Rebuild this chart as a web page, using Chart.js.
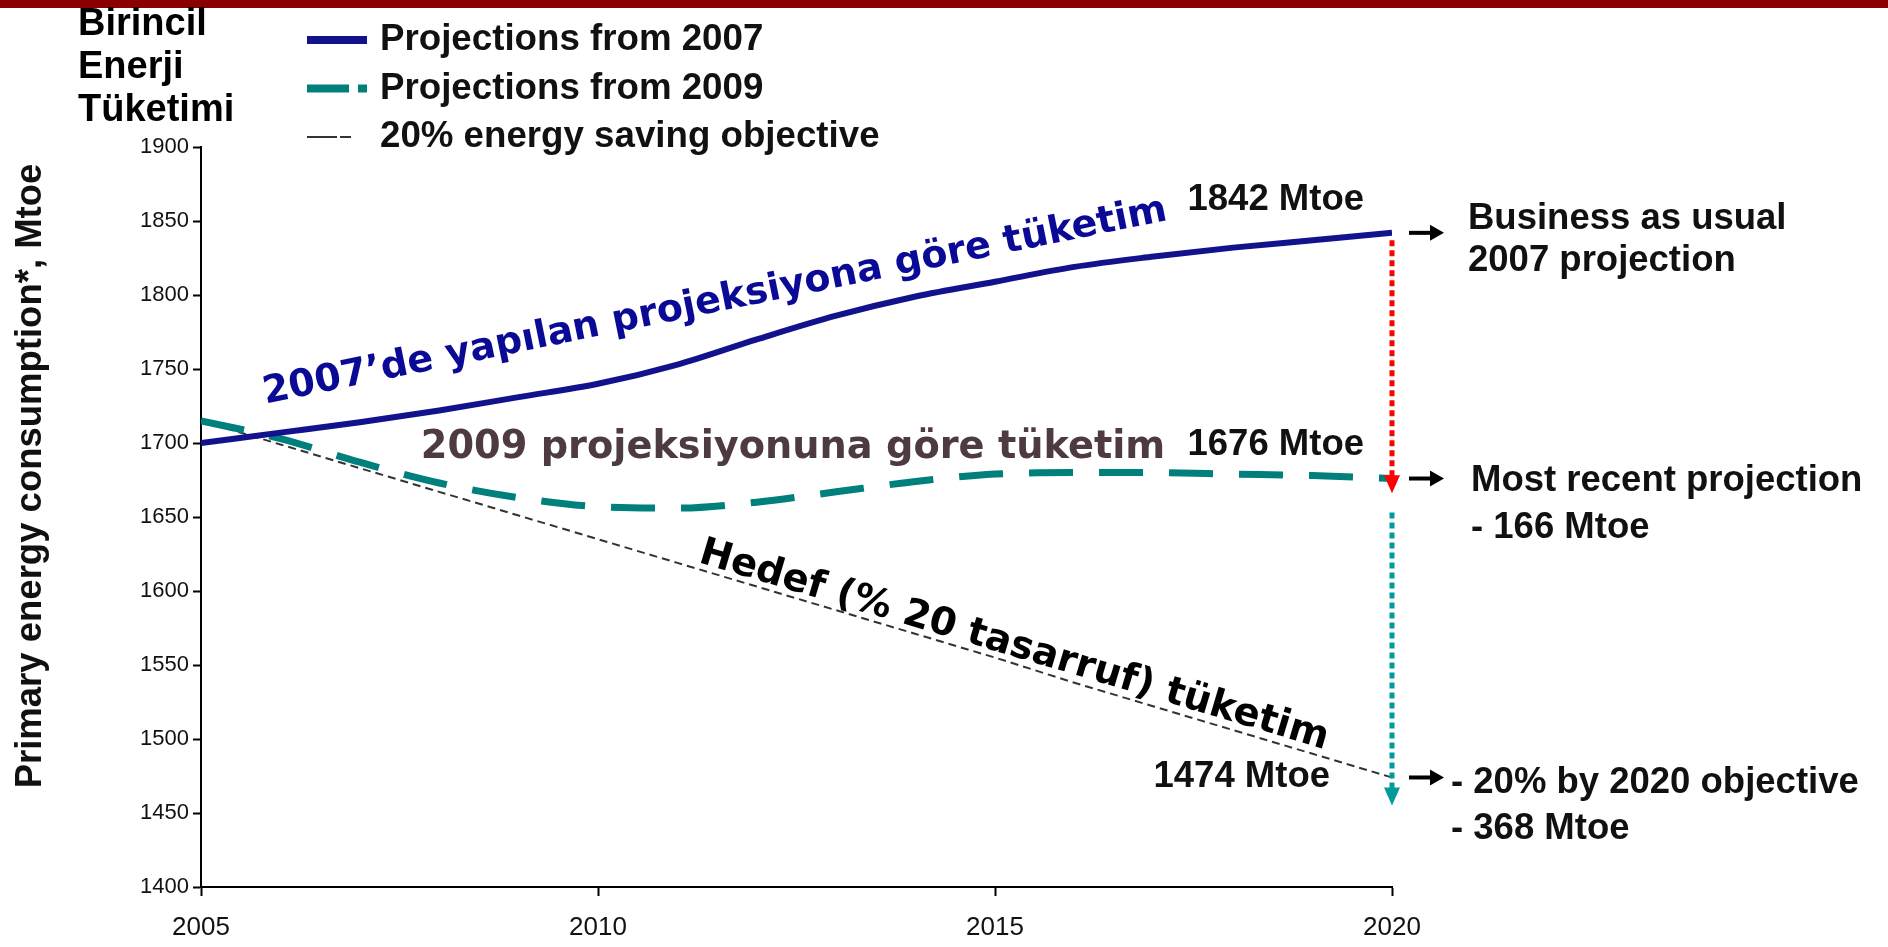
<!DOCTYPE html>
<html>
<head>
<meta charset="utf-8">
<script src="https://cdn.jsdelivr.net/npm/chart.js@4.4.0/dist/chart.umd.min.js"></script>
<style>
html,body{margin:0;padding:0;background:#fff;overflow:hidden}
#wrap{position:relative;width:1888px;height:947px}
</style>
</head>
<body>
<div id="wrap"><canvas id="c" width="1888" height="947"></canvas></div>
<script>
// ---------- data ----------
const years = [2005,2006,2007,2008,2009,2010,2011,2012,2013,2014,2015,2016,2017,2018,2019,2020];
const proj2007 = [1700,1707,1714,1722,1731,1740,1753,1770,1786,1799,1809,1819,1826,1832,1837,1842];
const proj2009 = [1715,1703,1687,1673,1663,1657,1656,1660,1667,1674,1679,1680,1680,1679,1678,1676];
const objective = [1715,1699,1683,1667,1651,1635,1619,1603,1587,1571,1555,1538,1522,1506,1490,1474];
const seriesLabels = ['Projections from 2007','Projections from 2009','20% energy saving objective'];
const xTickValues = [2005,2010,2015,2020];
const yTickValues = [1400,1450,1500,1550,1600,1650,1700,1750,1800,1850,1900];
const endValues = [1842,1676,1474];
const endLabels = ['1842 Mtoe','1676 Mtoe','1474 Mtoe'];
const sideNotes = [['Business as usual','2007 projection'],['Most recent projection','- 166 Mtoe'],['- 20% by 2020 objective','- 368 Mtoe']];
const gapRed = [1837,1666];
const gapTeal = [1653,1455];
const heading = ['Birincil','Enerji','Tüketimi'];
const yTitle = 'Primary energy consumption*, Mtoe';
const curveNotes = ["2007\u2019de yap\u0131lan projeksiyona g\u00f6re t\u00fcketim","2009 projeksiyonuna g\u00f6re t\u00fcketim","Hedef (% 20 tasarruf) t\u00fcketim"];

// ---------- styles ----------
const NAVY = '#12128c', TEAL = '#00807c', TEAL_DOT = '#009c9c', RED = '#ff0000';
const ARIAL = '"Liberation Sans", Arial, sans-serif';
const WIDE = '"DejaVu Sans", Verdana, sans-serif';

const toPts = arr => years.map((yr,i)=>({x:yr,y:arr[i]}));

function arrowDown(ctx, x, yTop, yTip, color){
  ctx.save();
  ctx.strokeStyle = color; ctx.lineWidth = 5; ctx.setLineDash([6,4]);
  ctx.beginPath(); ctx.moveTo(x, yTop); ctx.lineTo(x, yTip-14); ctx.stroke();
  ctx.setLineDash([]);
  ctx.fillStyle = color;
  ctx.beginPath(); ctx.moveTo(x-8, yTip-18); ctx.lineTo(x+8, yTip-18); ctx.lineTo(x, yTip); ctx.closePath(); ctx.fill();
  ctx.restore();
}
function arrowRight(ctx, x0, x1, y){
  ctx.save();
  ctx.fillStyle = '#000';
  ctx.fillRect(x0, y-2, x1-x0-12, 4);
  ctx.beginPath(); ctx.moveTo(x1-14, y-8); ctx.lineTo(x1, y); ctx.lineTo(x1-14, y+8); ctx.closePath(); ctx.fill();
  ctx.restore();
}
function text(ctx, s, x, y, font, color, align, angle){
  ctx.save();
  ctx.translate(x, y);
  if (angle) ctx.rotate(angle*Math.PI/180);
  ctx.font = font; ctx.fillStyle = color; ctx.textAlign = align || 'left'; ctx.textBaseline = 'middle';
  ctx.fillText(s, 0, 0);
  ctx.restore();
}

const deco = {
  id: 'deco',
  afterDatasetsDraw(chart){
    const {ctx, scales:{x, y}} = chart;
    ctx.save();
    // top band
    ctx.fillStyle = '#8a0000'; ctx.fillRect(0, 0, chart.width, 8);
    // heading
    heading.forEach((t,i)=>{
      ctx.font = 'bold 38px ' + ARIAL; ctx.fillStyle = '#000'; ctx.textAlign='left'; ctx.textBaseline='alphabetic';
      ctx.fillText(t, 78, 35 + i*43);
    });
    // y title
    text(ctx, yTitle, 31, 476, 'bold 36.5px ' + ARIAL, '#111', 'center', -90);
    // legend
    chart.data.datasets.forEach((ds,i)=>{
      const ly = 40 + i*48.5;
      ctx.fillStyle = ds.borderColor;
      if (i===0){ ctx.fillRect(307, ly-4, 60, 8); }
      else if (i===1){ ctx.fillRect(307, ly-4, 42, 8); ctx.fillRect(358, ly-4, 9, 8); }
      else { ctx.fillRect(307, ly-1, 30, 2); ctx.fillRect(340, ly-1, 11, 2); }
      text(ctx, ds.label, 380, ly, 'bold 36.7px ' + ARIAL, '#111', 'left');
    });
    // curve notes
    text(ctx, curveNotes[0], 715, 302, 'bold 38px ' + WIDE, '#0a0a96', 'center', -11.5);
    text(ctx, curveNotes[1], 793, 448, 'bold 38.3px ' + WIDE, '#4d3b40', 'center', 0);
    text(ctx, curveNotes[2], 1014, 646, 'bold 38.6px ' + WIDE, '#000', 'center', 16.6);
    // vertical gap arrows
    const xe = x.getPixelForValue(years[years.length-1]);
    arrowDown(ctx, xe, y.getPixelForValue(gapRed[0]), y.getPixelForValue(gapRed[1]), RED);
    arrowDown(ctx, xe, y.getPixelForValue(gapTeal[0]), y.getPixelForValue(gapTeal[1]), TEAL_DOT);
    // end labels, arrows and side notes
    const f = 'bold 36.5px ' + ARIAL;
    const py = endValues.map(v=>y.getPixelForValue(v));
    text(ctx, endLabels[0], xe-28, py[0]-33, f, '#111', 'right');
    text(ctx, endLabels[1], xe-28, py[1]-34, f, '#111', 'right');
    text(ctx, endLabels[2], xe-62, py[2]-1, f, '#111', 'right');
    py.forEach(p=>arrowRight(ctx, xe+17, xe+52, p));
    text(ctx, sideNotes[0][0], xe+76, py[0]-14, f, '#111', 'left');
    text(ctx, sideNotes[0][1], xe+76, py[0]+28, f, '#111', 'left');
    text(ctx, sideNotes[1][0], xe+79, py[1]+2, f, '#111', 'left');
    text(ctx, sideNotes[1][1], xe+79, py[1]+49, f, '#111', 'left');
    text(ctx, sideNotes[2][0], xe+59, py[2]+5, f, '#111', 'left');
    text(ctx, sideNotes[2][1], xe+59, py[2]+51, f, '#111', 'left');
    ctx.restore();
  }
};

new Chart(document.getElementById('c'), {
  type: 'line',
  data: {
    datasets: [
      {label: seriesLabels[0], data: toPts(proj2007), borderColor: NAVY, borderWidth: 6, pointRadius: 0, cubicInterpolationMode: 'monotone', fill: false},
      {label: seriesLabels[1], data: toPts(proj2009), borderColor: TEAL, borderWidth: 7, borderDash: [44,26], borderCapStyle: 'butt', pointRadius: 0, cubicInterpolationMode: 'monotone', fill: false},
      {label: seriesLabels[2], data: toPts(objective), borderColor: '#333333', borderWidth: 2, borderDash: [8,5], pointRadius: 0, tension: 0, fill: false}
    ]
  },
  options: {
    responsive: false,
    animation: false,
    devicePixelRatio: 1,
    layout: {padding: {left: 0, top: 147, right: 496, bottom: 0}},
    plugins: {legend: {display: false}, tooltip: {enabled: false}, title: {display: false}},
    scales: {
      x: {
        type: 'linear', min: 2005, max: 2020,
        afterBuildTicks: s => { s.ticks = xTickValues.map(v=>({value: v})); },
        afterFit: s => { s.height = 60; },
        grid: {drawOnChartArea: false, drawTicks: true, tickLength: 9, tickColor: '#000', tickWidth: 2},
        border: {display: true, color: '#000', width: 2},
        ticks: {font: {family: ARIAL, size: 26}, color: '#111', padding: 16, maxRotation: 0, callback: v => String(v)}
      },
      y: {
        min: 1400, max: 1900,
        afterBuildTicks: s => { s.ticks = yTickValues.map(v=>({value: v})); },
        afterFit: s => { s.width = 201; },
        grid: {drawOnChartArea: false, drawTicks: true, tickLength: 8, tickColor: '#000', tickWidth: 2},
        border: {display: true, color: '#000', width: 2},
        ticks: {font: {family: ARIAL, size: 22}, color: '#111', padding: 4, callback: v => String(v)}
      }
    }
  },
  plugins: [deco]
});
</script>
</body>
</html>
